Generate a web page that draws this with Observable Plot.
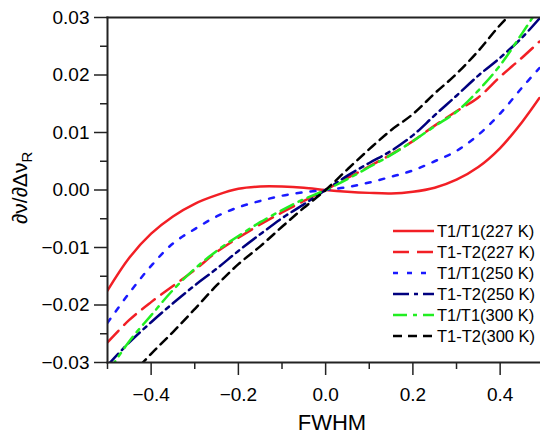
<!DOCTYPE html>
<html><head><meta charset="utf-8">
<script src="https://cdn.jsdelivr.net/npm/d3@7"></script>
<script src="https://cdn.jsdelivr.net/npm/@observablehq/plot@0.6"></script>
<style>body{margin:0;background:#fff;font-family:"Liberation Sans",Arial,sans-serif}</style>
</head><body><div id="chart"></div>
<script>
// Series labels and styles
const seriesNames = ["T1/T1(227 K)", "T1-T2(227 K)", "T1/T1(250 K)", "T1-T2(250 K)", "T1/T1(300 K)", "T1-T2(300 K)"];
const seriesColors = ["#f21f25", "#f21f25", "#1a1aff", "#00007f", "#22ee22", "#000000"];
const seriesDash = [null, "16,8", "5,9", "16,5,4,5", "14,6,4,6", "9,6"];

// Values
const x227a = [-0.5,-0.45,-0.4,-0.35,-0.3,-0.25,-0.2,-0.15,-0.1,-0.05,0,0.05,0.1,0.15,0.2,0.25,0.3,0.35,0.4,0.45,0.49];
const y227a = [-0.0175,-0.0118,-0.0076,-0.0046,-0.0024,-0.0009,0.0002,0.0006,0.0006,0.0004,0,-0.0003,-0.0005,-0.0006,-0.0003,0.0004,0.0018,0.0040,0.0073,0.0118,0.0160];

const x227b = [-0.5,-0.45,-0.4,-0.35,-0.3,-0.25,-0.2,-0.15,-0.1,-0.05,0,0.05,0.1,0.15,0.2,0.25,0.3,0.35,0.4,0.45,0.49];
const y227b = [-0.0265,-0.0226,-0.0195,-0.0167,-0.0139,-0.0108,-0.0083,-0.0060,-0.0039,-0.0019,0,0.0021,0.0041,0.0062,0.0085,0.0112,0.0137,0.0161,0.0197,0.0230,0.0258];

const x250a = [-0.5,-0.45,-0.4,-0.35,-0.3,-0.25,-0.2,-0.15,-0.1,-0.05,0,0.05,0.1,0.15,0.2,0.25,0.3,0.35,0.4,0.45,0.49];
const y250a = [-0.0231,-0.0179,-0.0132,-0.0093,-0.0068,-0.0046,-0.0030,-0.0019,-0.0010,-0.0004,0,0.0005,0.0013,0.0023,0.0034,0.0050,0.0068,0.0096,0.0133,0.0178,0.0212];

const x250b = [-0.5,-0.45,-0.4,-0.35,-0.3,-0.25,-0.2,-0.15,-0.1,-0.05,0,0.05,0.1,0.15,0.2,0.25,0.3,0.35,0.4,0.45,0.49];
const y250b = [-0.0305,-0.0265,-0.0230,-0.0197,-0.0166,-0.0137,-0.0106,-0.0077,-0.0049,-0.0025,0,0.0025,0.0047,0.0068,0.0095,0.0130,0.0164,0.0199,0.0230,0.0265,0.0298];

const x300a = [-0.5,-0.45,-0.4,-0.35,-0.3,-0.25,-0.2,-0.15,-0.1,-0.05,0,0.05,0.1,0.15,0.2,0.25,0.3,0.35,0.4,0.45,0.49];
const y300a = [-0.0318,-0.0263,-0.0218,-0.0174,-0.0137,-0.0106,-0.0080,-0.0056,-0.0035,-0.0016,0,0.0019,0.0040,0.0061,0.0085,0.0111,0.0136,0.0173,0.0217,0.0272,0.0318];

const x300b = [-0.45,-0.4,-0.35,-0.3,-0.25,-0.2,-0.15,-0.1,-0.05,0,0.05,0.1,0.15,0.2,0.25,0.3,0.35,0.4,0.45];
const y300b = [-0.0325,-0.0285,-0.0247,-0.0207,-0.0166,-0.0129,-0.0098,-0.0064,-0.0031,0,0.0036,0.0071,0.0104,0.0132,0.0168,0.0202,0.0242,0.0287,0.0325];

const xMajorTicks = [-0.4,-0.2,0,0.2,0.4];
const xMinorTicks = [-0.5,-0.3,-0.1,0.1,0.3];
const yMajorTicks = [-0.03,-0.02,-0.01,0,0.01,0.02,0.03];
const yMinorTicks = [-0.025,-0.015,-0.005,0.005,0.015,0.025];

const xs = [x227a, x227b, x250a, x250b, x300a, x300b];
const ys = [y227a, y227b, y250a, y250b, y300a, y300b];
const series = seriesNames.map((name, i) => ({
  name, color: seriesColors[i], dash: seriesDash[i],
  rows: xs[i].map((x, j) => ({x, y: ys[i][j]}))
}));

const axisColor = "#222";
const plot = Plot.plot({
  width: 540, height: 437,
  marginLeft: 107, marginRight: 0, marginTop: 17, marginBottom: 75,
  style: {fontFamily: "'Liberation Sans', Arial, sans-serif", fontSize: "19px", color: "#000", background: "#fff", overflow: "visible"},
  x: {domain: [-0.5, 0.4925]},
  y: {domain: [-0.03, 0.03]},
  marks: [
    ...series.map(s => Plot.line(s.rows, {
      x: "x", y: "y", stroke: s.color, strokeWidth: 2.5,
      strokeDasharray: s.dash, clip: true, curve: "catmull-rom"
    })),
    Plot.axisX(xMajorTicks, {tickSize: 13, tickPadding: 12, stroke: axisColor, strokeWidth: 1.5, label: null, fontSize: 19, tickFormat: d3.format(".1f")}),
    Plot.axisX(xMinorTicks, {tickSize: 7, stroke: axisColor, strokeWidth: 1.5, text: null, label: null}),
    Plot.axisY(yMajorTicks, {tickSize: 13, tickPadding: 5, stroke: axisColor, strokeWidth: 1.5, label: null, fontSize: 19, tickFormat: d3.format(".2f")}),
    Plot.axisY(yMinorTicks, {tickSize: 7, stroke: axisColor, strokeWidth: 1.5, text: null, label: null}),
    Plot.frame({anchor: "left", stroke: axisColor, strokeWidth: 2}),
    Plot.frame({anchor: "bottom", stroke: axisColor, strokeWidth: 2}),
    Plot.frame({anchor: "top", stroke: axisColor, strokeWidth: 2})
  ]
});

document.getElementById("chart").appendChild(plot);

const svg = d3.select(plot);
// Axis titles
svg.append("text")
  .attr("x", 332).attr("y", 430)
  .attr("text-anchor", "middle").attr("font-size", 22).attr("fill", "#000")
  .text("FWHM");
const yl = svg.append("text")
  .attr("text-anchor", "start").attr("font-size", 21).attr("fill", "#000");
yl.append("tspan").text("∂ν/∂Δν");
yl.append("tspan").attr("font-size", 15).attr("dy", 5).text("R");
const len = yl.node().getComputedTextLength();
yl.attr("transform", `translate(27,${188 + len / 2}) rotate(-90)`);

// Legend
const lg = svg.append("g");
series.forEach((s, i) => {
  const cy = 231 + i * 21;
  lg.append("line").attr("x1", 393).attr("x2", 434).attr("y1", cy).attr("y2", cy)
    .attr("stroke", s.color).attr("stroke-width", 2.5)
    .attr("stroke-dasharray", s.dash);
  lg.append("text").attr("x", 437).attr("y", cy).attr("dy", "0.35em")
    .attr("text-anchor", "start")
    .attr("font-size", 16.5).attr("fill", "#000").text(s.name);
});
</script>
</body></html>
